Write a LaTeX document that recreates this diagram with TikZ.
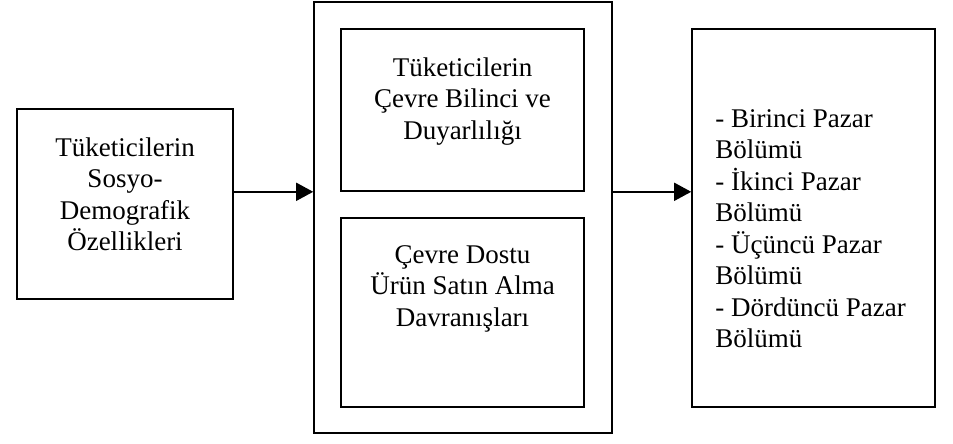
\documentclass[tikz,border=0pt]{standalone}
\usepackage{fontspec}
\setmainfont{Liberation Serif}
\usetikzlibrary{arrows.meta,positioning}

\begin{document}
\begin{tikzpicture}[x=1pt, y=-1pt, every node/.style={font=\fontsize{27}{31.5}\selectfont}]

        % Local styles for the boxes, their texts and the flow arrows
        \tikzset{
            box/.style={draw, line width=1.6pt, inner sep=0pt},
            boxtext/.style={align=center, inner sep=0pt},
            flow/.style={-{Triangle[length=17pt, width=18pt]}, line width=1.6pt}
        }

        % --- Page frame (pixels of the original) ---
        \useasboundingbox (0,0) rectangle (953,444);

        % --- Left: socio-demographic features ---
        \node[box, minimum width=216pt, minimum height=190pt] (socio) at (125,204) {};
        \node[boxtext, below=29pt of socio.north] (sociotext) {Tüketicilerin\\Sosyo-\\Demografik\\Özellikleri};

        % --- Middle: outer frame with two inner boxes ---
        \node[box, minimum width=298pt, minimum height=431pt] (mid) at (463,217.5) {};
        \node[box, minimum width=243pt, minimum height=162pt] (aware) at (462.5,110) {};
        \node[boxtext, below=29pt of aware.north] (awaretext) {Tüketicilerin\\Çevre Bilinci ve\\Duyarlılığı};
        \node[box, minimum width=243pt, minimum height=189pt] (buy) at (462.5,312.5) {};
        \node[boxtext, below=28pt of buy.north] (buytext) {Çevre Dostu\\Ürün Satın Alma\\Davranışları};

        % --- Right: market segments ---
        \node[box, minimum width=243pt, minimum height=378pt] (seg) at (813.5,218) {};
        \node[align=left, inner sep=0pt, anchor=north west] (segtext) at ([xshift=24pt, yshift=-81pt]seg.north west)
            {- Birinci Pazar\\Bölümü\\- İkinci Pazar\\Bölümü\\- Üçüncü Pazar\\Bölümü\\- Dördüncü Pazar\\Bölümü};

        % --- Arrows (at the height of the lower edge of the upper inner box) ---
        \draw[flow] (socio.east |- aware.south) -- (mid.west |- aware.south);
        \draw[flow] (mid.east |- aware.south) -- (seg.west |- aware.south);

    \end{tikzpicture}
\end{document}
